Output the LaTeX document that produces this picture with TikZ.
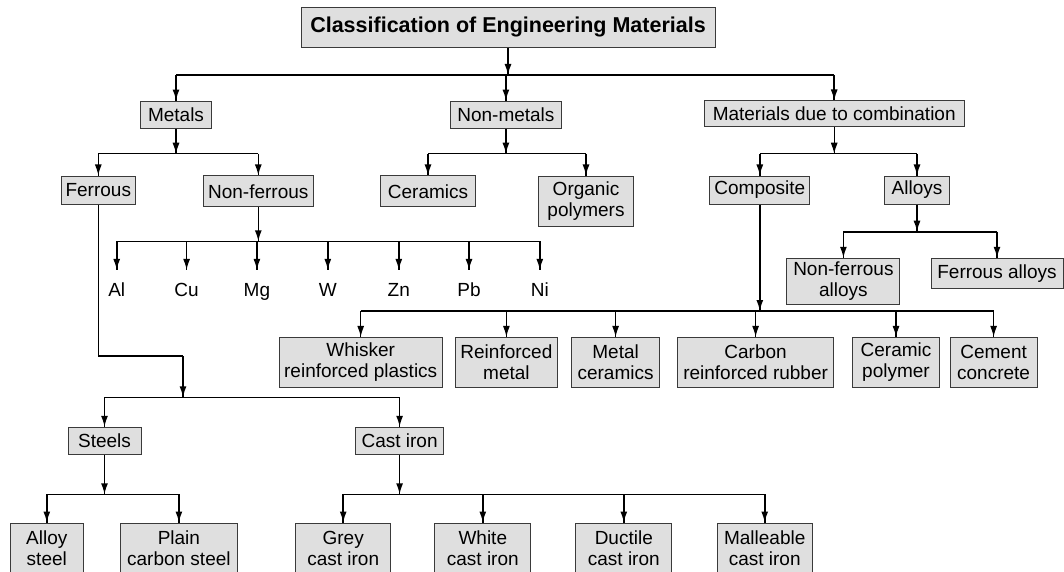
\documentclass[tikz,border=0pt]{standalone}
\usepackage{fontspec}
\setmainfont{Liberation Sans}
\usetikzlibrary{arrows.meta,decorations.markings}

\definecolor{boxfill}{HTML}{DFDFDF}
\definecolor{boxline}{HTML}{3A3A3A}

\begin{document}
\begin{tikzpicture}[x=1pt,y=-1pt,
    box/.style={draw=boxline,fill=boxfill,line width=1pt,inner sep=0pt,align=center,
        font=\fontsize{19}{21}\selectfont},
    metal/.style={inner sep=0pt,inner ysep=13pt,text height=13.6pt,text depth=0pt,anchor=base,
        font=\fontsize{19}{21}\selectfont},
    conn/.style={line width=1.6pt},
    thinconn/.style={line width=1.1pt},
    arrowend/.style={postaction={decorate,decoration={markings,
        mark=at position 1 with {\arrow{Latex[length=11pt,width=7pt]}}}}}]
            \useasboundingbox (0,0) rectangle (1064,572);

            % boxes
            \node[box,font=\bfseries\fontsize{21.5}{24}\selectfont,minimum width=414pt,minimum height=40pt] (title) at (508,27.3) {Classification of Engineering Materials};

            \node[box,minimum width=71pt,minimum height=27.3pt] (metals) at (176,114.7) {Metals};
            \node[box,minimum width=111pt,minimum height=27.3pt] (nonmetals) at (505.9,114.7) {Non-metals};
            \node[box,minimum width=260pt,minimum height=26pt] (combination) at (834.2,114) {Materials due to combination};

            \node[box,minimum width=74pt,minimum height=28pt] (ferrous) at (98.3,190) {Ferrous};
            \node[box,minimum width=110pt,minimum height=30.7pt] (nonferrous) at (258.3,191.3) {Non-ferrous};
            \node[box,minimum width=95pt,minimum height=30.7pt] (ceramics) at (428,191.3) {Ceramics};
            \node[box,minimum width=95pt,minimum height=50pt] (organic) at (586,201) {Organic\\polymers};
            \node[box,minimum width=100pt,minimum height=28pt] (composite) at (759.8,190) {Composite};
            \node[box,minimum width=65pt,minimum height=28pt] (alloys) at (917,190) {Alloys};

            \node[box,minimum width=113pt,minimum height=46pt] (nfalloys) at (843.4,281.3) {Non-ferrous\\alloys};
            \node[box,minimum width=132pt,minimum height=30pt] (falloys) at (997,273.3) {Ferrous alloys};

            \foreach \sym/\xx in {Al/116.7,Cu/186.6,Mg/256.9,W/327.8,Zn/398.8,Pb/469,Ni/539.8}
                \node[metal] (m\sym) at (\xx,296.7) {\sym};

            \node[box,minimum width=163pt,minimum height=50pt] (whisker) at (360.7,362.3) {Whisker\\reinforced plastics};
            \node[box,minimum width=102pt,minimum height=50pt] (rmetal) at (506.4,362.3) {Reinforced\\metal};
            \node[box,minimum width=88pt,minimum height=50pt] (mceramics) at (615.6,362.3) {Metal\\ceramics};
            \node[box,minimum width=156pt,minimum height=50pt] (carbon) at (755.6,362.3) {Carbon\\reinforced rubber};
            \node[box,minimum width=87pt,minimum height=50pt] (cpolymer) at (896,362.3) {Ceramic\\polymer};
            \node[box,minimum width=87pt,minimum height=50pt] (cement) at (993.6,362.3) {Cement\\concrete};

            \node[box,minimum width=73pt,minimum height=27.4pt] (steels) at (104.5,441) {Steels};
            \node[box,minimum width=88pt,minimum height=27.4pt] (castiron) at (399.6,441) {Cast iron};

            \node[box,minimum width=73pt,minimum height=50pt] (alloysteel) at (46.8,548) {Alloy\\steel};
            \node[box,minimum width=117pt,minimum height=50pt] (plaincarbon) at (178.9,548) {Plain\\carbon steel};
            \node[box,minimum width=95pt,minimum height=50pt] (grey) at (343.2,548) {Grey\\cast iron};
            \node[box,minimum width=96pt,minimum height=50pt] (white) at (482.8,548) {White\\cast iron};
            \node[box,minimum width=96pt,minimum height=50pt] (ductile) at (623.8,548) {Ductile\\cast iron};
            \node[box,minimum width=95pt,minimum height=50pt] (malleable) at (764.7,548) {Malleable\\cast iron};

            % bus points
            \coordinate (top) at (508,75);
            \coordinate (mbus) at (176,153.7);
            \coordinate (nmbus) at (505.9,153.7);
            \coordinate (cbus) at (834.2,153.7);
            \coordinate (abus) at (917,231.7);
            \coordinate (nfbus) at (258.3,241.3);
            \coordinate (xbus) at (759.8,311);
            \coordinate (fbend) at (183,356);
            \coordinate (fbus) at (183,397.3);
            \coordinate (sbus) at (104.5,494.3);
            \coordinate (ibus) at (399.6,494.3);

            % connectors
            \draw[conn,arrowend] (title) -- (top);
            \draw[conn] (metals.north |- top) -- (combination.north |- top);
            \foreach \n in {metals,nonmetals,combination}
                \draw[conn,arrowend] (\n.north |- top) -- (\n.north);

            \draw[thinconn,arrowend] (metals) -- (mbus);
            \draw[conn] (ferrous.north |- mbus) -- (nonferrous.north |- mbus);
            \foreach \n in {ferrous,nonferrous}
                \draw[conn,arrowend] (\n.north |- mbus) -- (\n.north);

            \draw[conn,arrowend] (nonmetals) -- (nmbus);
            \draw[conn] (ceramics.north |- nmbus) -- (organic.north |- nmbus);
            \foreach \n in {ceramics,organic}
                \draw[conn,arrowend] (\n.north |- nmbus) -- (\n.north);

            \draw[thinconn,arrowend] (combination) -- (cbus);
            \draw[conn] (composite.north |- cbus) -- (alloys.north |- cbus);
            \foreach \n in {composite,alloys}
                \draw[conn,arrowend] (\n.north |- cbus) -- (\n.north);

            \draw[conn,arrowend] (alloys) -- (abus);
            \draw[conn] (nfalloys.north |- abus) -- (falloys.north |- abus);
            \foreach \n in {nfalloys,falloys}
                \draw[conn,arrowend] (\n.north |- abus) -- (\n.north);

            \draw[conn,arrowend] (nonferrous) -- (nfbus);
            \draw[thinconn] (mAl.north |- nfbus) -- (mNi.north |- nfbus);
            \foreach \sym in {Al,Cu,Mg,W,Zn,Pb,Ni}
                \draw[conn,arrowend] (m\sym.north |- nfbus) -- (m\sym.north);

            \draw[conn,arrowend] (composite) -- (xbus);
            \draw[conn] (whisker.north |- xbus) -- (cement.north |- xbus);
            \foreach \n in {whisker,rmetal,mceramics,carbon,cpolymer,cement}
                \draw[thinconn,arrowend] (\n.north |- xbus) -- (\n.north);

            \draw[thinconn] (ferrous) |- (fbend);
            \draw[conn,arrowend] (fbend) -- (fbus);
            \draw[conn] (steels.north |- fbus) -- (castiron.north |- fbus);
            \foreach \n in {steels,castiron}
                \draw[conn,arrowend] (\n.north |- fbus) -- (\n.north);

            \draw[conn,arrowend] (steels) -- (sbus);
            \draw[thinconn] (alloysteel.north |- sbus) -- (plaincarbon.north |- sbus);
            \foreach \n in {alloysteel,plaincarbon}
                \draw[conn,arrowend] (\n.north |- sbus) -- (\n.north);

            \draw[conn,arrowend] (castiron) -- (ibus);
            \draw[thinconn] (grey.north |- ibus) -- (malleable.north |- ibus);
            \foreach \n in {grey,white,ductile,malleable}
                \draw[conn,arrowend] (\n.north |- ibus) -- (\n.north);

        \end{tikzpicture}
\end{document}
